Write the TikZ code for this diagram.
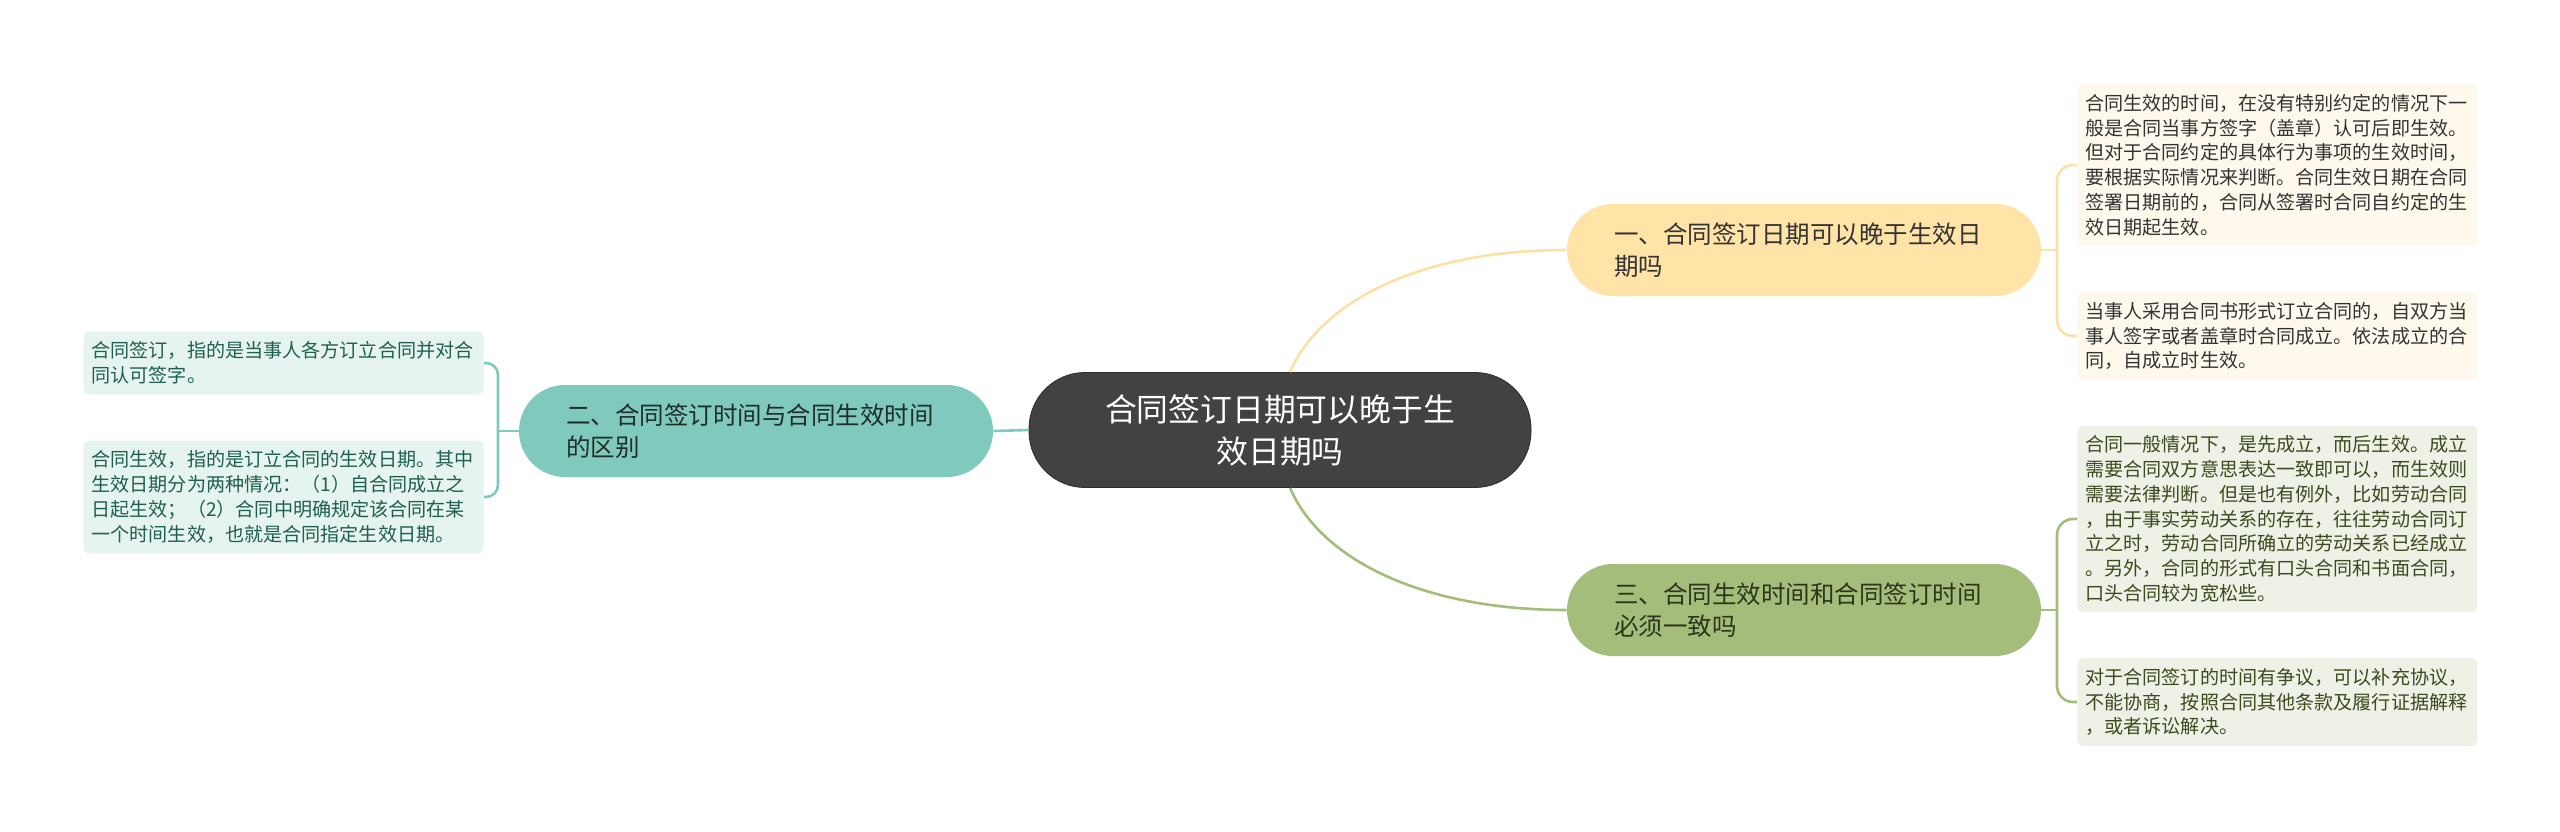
\documentclass[tikz,border=0pt]{standalone}
\usepackage{fontspec}
\setmainfont{Noto Sans CJK SC}
\usepackage{xcolor}
\usepackage{tikz}
\usetikzlibrary{positioning}

\definecolor{rootfill}{HTML}{424242}
\definecolor{rootdraw}{HTML}{2B2B2B}
\definecolor{yelfill}{HTML}{FFE3A7}
\definecolor{yelline}{HTML}{FBE1A5}
\definecolor{yelleaf}{HTML}{FEF9EC}
\definecolor{yeltext}{HTML}{333333}
\definecolor{tealfill}{HTML}{7FCABC}
\definecolor{tealleaf}{HTML}{E5F4F0}
\definecolor{tealtext}{HTML}{1F5E50}
\definecolor{tealtopic}{HTML}{1E2E2A}
\definecolor{grnfill}{HTML}{A5BD7A}
\definecolor{grnleaf}{HTML}{EEF1E6}
\definecolor{grntext}{HTML}{3C4A1F}
\definecolor{grntopic}{HTML}{2B3519}

\begin{document}
\begin{tikzpicture}[
  x=0.5pt, y=-0.5pt,
  root/.style={draw=rootdraw, fill=rootfill, text=white, rounded corners=28pt,
               minimum width=251pt, minimum height=57.5pt, inner sep=0pt,
               text width=182pt, align=center,
               font=\fontsize{15.9pt}{21pt}\selectfont},
  topic/.style={fill=#1, rounded corners=23pt,
                minimum width=237pt, minimum height=46pt, inner sep=0pt,
                text width=190pt, align=left,
                font=\fontsize{12.25pt}{16pt}\selectfont},
  leaf/.style={fill=#1, rounded corners=3pt, text width=192pt,
               inner xsep=4pt, inner ysep=5pt, align=left,
               font=\fontsize{9.55pt}{12.4pt}\selectfont},
  link/.style={line width=1.3pt, draw=#1},
]

\fill[white] (0,0) rectangle (2560,831);
\useasboundingbox (0,0) rectangle (2560,831);

%─── Root ────────────────────────────────────────────────────────────────────
\node[root] (ctr) at (1280, 430) {合同签订日期可以晚于生\\效日期吗};

%─── Topics ──────────────────────────────────────────────────────────────────
\node[topic=yelfill, text=yeltext]   (yel) at (1804, 250) {一、合同签订日期可以晚于生效日\\期吗};
\node[topic=tealfill, text=tealtopic] (tel) at (756, 431)  {二、合同签订时间与合同生效时间\\的区别};
\node[topic=grnfill, text=grntopic]  (grn) at (1804, 610) {三、合同生效时间和合同签订时间\\必须一致吗};

%─── Leaves, right side ──────────────────────────────────────────────────────
\node[leaf=yelleaf, text=yeltext, anchor=west] (r1) at (2077, 165)
  {合同生效的时间，在没有特别约定的情况下一\\般是合同当事方签字（盖章）认可后即生效。\\但对于合同约定的具体行为事项的生效时间，\\要根据实际情况来判断。合同生效日期在合同\\签署日期前的，合同从签署时合同自约定的生\\效日期起生效。};
\node[leaf=yelleaf, text=yeltext, anchor=west] (r2) at (2077, 336)
  {当事人采用合同书形式订立合同的，自双方当\\事人签字或者盖章时合同成立。依法成立的合\\同，自成立时生效。};
\node[leaf=grnleaf, text=grntext, anchor=west] (r3) at (2077, 519)
  {合同一般情况下，是先成立，而后生效。成立\\需要合同双方意思表达一致即可以，而生效则\\需要法律判断。但是也有例外，比如劳动合同\\，由于事实劳动关系的存在，往往劳动合同订\\立之时，劳动合同所确立的劳动关系已经成立\\。另外，合同的形式有口头合同和书面合同，\\口头合同较为宽松些。};
\node[leaf=grnleaf, text=grntext, anchor=west] (r4) at (2077, 702)
  {对于合同签订的时间有争议，可以补充协议，\\不能协商，按照合同其他条款及履行证据解释\\，或者诉讼解决。};

%─── Leaves, left side ───────────────────────────────────────────────────────
\node[leaf=tealleaf, text=tealtext, anchor=east] (l1) at (484, 363)
  {合同签订，指的是当事人各方订立合同并对合\\同认可签字。};
\node[leaf=tealleaf, text=tealtext, anchor=east] (l2) at (484, 497)
  {合同生效，指的是订立合同的生效日期。其中\\生效日期分为两种情况：（1）自合同成立之\\日起生效；（2）合同中明确规定该合同在某\\一个时间生效，也就是合同指定生效日期。};

%─── Links root -> topics ────────────────────────────────────────────────────
\draw[link=yelline] ([xshift=5pt]ctr.north)
      .. controls +(30,-70) and +(-147,0) .. (yel.west);
\draw[link=grnfill] ([xshift=5pt]ctr.south)
      .. controls +(30,70) and +(-147,0) .. (grn.west);
\draw[link=tealfill] (ctr.west) -- (tel.east);

%─── Links topics -> leaves ──────────────────────────────────────────────────
\draw[link=yelline] (yel.east) -- ++(16,0);
\draw[link=yelline, rounded corners=8pt] (r1.west) -- ++(-20,0) |- (r2.west);
\draw[link=grnfill] (grn.east) -- ++(16,0);
\draw[link=grnfill, rounded corners=8pt] (r3.west) -- ++(-20,0) |- (r4.west);
\draw[link=tealfill] (tel.west) -- ++(-21,0);
\draw[link=tealfill, rounded corners=6pt] (l1.east) -- ++(14,0) |- (l2.east);

\end{tikzpicture}
\end{document}
